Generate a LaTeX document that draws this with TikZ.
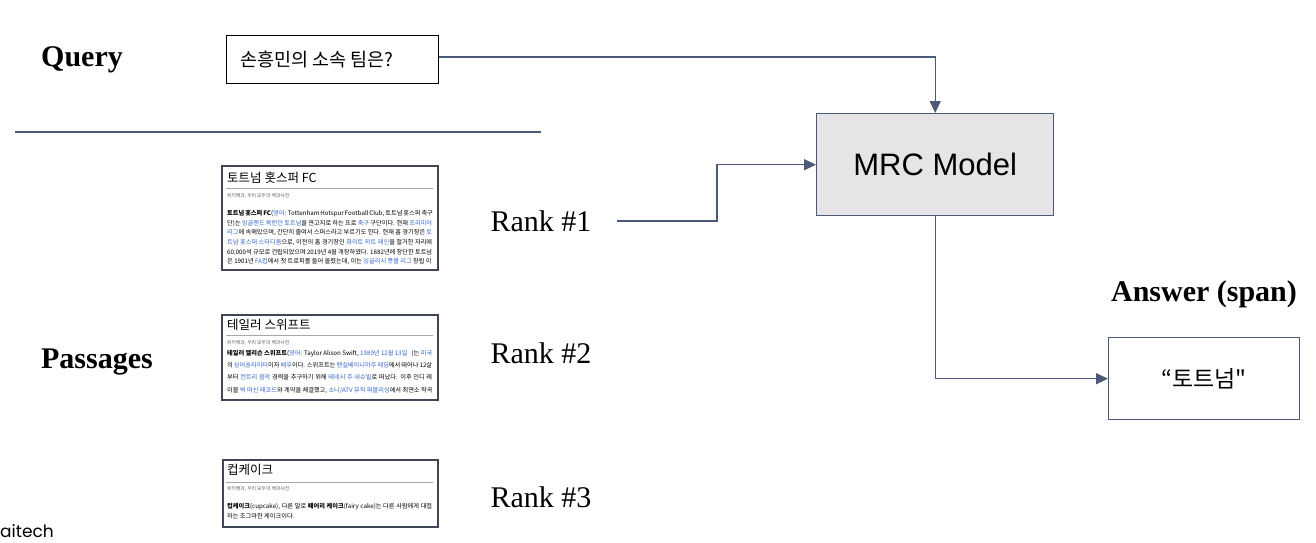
\documentclass[tikz,border=0pt]{standalone}
\usepackage{fontspec}
\setmainfont{Liberation Serif}
\setsansfont{Liberation Sans}
\newfontfamily\kr{Noto Sans CJK KR}
\newfontfamily\pop{Poppins}
\usetikzlibrary{arrows.meta}
\definecolor{slate}{HTML}{4A5A78}
\definecolor{mrcfill}{HTML}{E6E4E7}
\definecolor{pborder}{HTML}{3F4656}
\definecolor{linkblue}{HTML}{3366CC}
\definecolor{rulegray}{HTML}{A2A9B1}
\definecolor{subgray}{HTML}{54595D}
\newcommand\lk[1]{\textcolor{linkblue}{#1}}
\newcommand\jl[1]{\makebox[205pt][s]{#1}\\}
\newcommand\lastl[1]{\makebox[205pt][l]{#1}}
\tikzset{
  label/.style={font=\bfseries\fontsize{30}{32}\selectfont, inner sep=0pt},
  rank/.style={font=\fontsize{30}{32}\selectfont, inner sep=0pt},
  conn/.style={draw=slate, line width=1.4pt, -{Triangle[length=12pt,width=11pt]}},
  passage/.style={draw=pborder, line width=1.6pt, fill=white, anchor=north west, inner sep=0pt},
  ptitle/.style={anchor=west, inner sep=0pt, font=\kr\fontsize{12.5}{14}\selectfont},
  psub/.style={anchor=west, inner sep=0pt, text=subgray, font=\kr\fontsize{4.8}{5}\selectfont},
  pbody/.style={anchor=north west, inner sep=0pt},
}
\begin{document}
\begin{tikzpicture}[x=1pt,y=-1pt]
\useasboundingbox (0,0) rectangle (1316,542);
\fill[white] (0,0) rectangle (1316,542);

% labels
\node[label] (lq) at (82,60) {Query};
\node[label] (lp) at (97,362) {Passages};
\node[label] (la) at (1204,294) {Answer (span)};

% divider
\draw[slate, line width=1.2pt] (15,132) -- (541,132);

% query box
\node[draw=black, line width=1.4pt, minimum width=212pt, minimum height=48pt, anchor=north west, inner sep=0pt] (q) at (226,35) {};
\node[anchor=west, inner sep=0pt, font=\kr\fontsize{18.5}{20}\selectfont] (qt) at (240,59) {손흥민의 소속 팀은?};

% MRC model
\node[draw=slate, fill=mrcfill, line width=1.4pt, minimum width=237pt, minimum height=102pt, anchor=north west, inner sep=0pt] (mrc) at (816,113) {};
\node[inner sep=0pt, font=\sffamily\fontsize{31}{34}\selectfont] (mrct) at (mrc.center) {MRC Model};

% answer box
\node[draw=slate, line width=1.4pt, minimum width=191pt, minimum height=82pt, anchor=north west, inner sep=0pt] (ans) at (1108,337) {};
\node[inner sep=0pt, font=\kr\fontsize{23}{26}\selectfont] (anst) at (ans.center) {“토트넘"};

% ranks
\node[rank] (r1) at (541,221) {Rank \#1};
\node[rank] (r2) at (541,353) {Rank \#2};
\node[rank] (r3) at (541,497) {Rank \#3};

% connectors
\coordinate (bend) at (717,0);
\coordinate (qy) at (0,57);
\draw[conn] (q.east |- qy) -| (mrc.north);
\draw[conn, shorten <=25pt] (r1.east) -- (r1.east -| bend) |- (mrc.west);
\draw[conn] (mrc.south) |- (ans.west);

% passage 1
\node[passage, minimum width=216pt, minimum height=104pt] (p1) at (221,165) {};
\node[ptitle] (p1t) at (227,178) {토트넘 홋스퍼 FC};
\draw[rulegray, line width=0.6pt] (226,188) -- (433,188);
\node[psub] (p1s) at (227,196) {위키백과, 우리 모두의 백과사전.};
\node[pbody] (p1b) at (227,210) {\parbox{205pt}{\kr\fontsize{6.2}{9.7}\selectfont
\jl{\textbf{토트넘 홋스퍼 FC}(\lk{영어}: Tottenham Hotspur Football Club, 토트넘 홋스퍼 축구}
\jl{단)는 \lk{잉글랜드 북런던 토트넘}을 연고지로 하는 프로 \lk{축구} 구단이다. 현재 \lk{프리미어}}
\jl{\lk{리그}에 속해있으며, 간단히 줄여서 스퍼스라고 부르기도 한다. 현재 홈 경기장은 \lk{토}}
\jl{\lk{트넘 홋스퍼 스타디움}으로, 이전의 홈 경기장인 \lk{화이트 하트 레인}을 철거한 자리에}
\jl{60,000석 규모로 건립되었으며 2019년 4월 개장하였다. 1882년에 창단한 토트넘}
\lastl{은 1901년 \lk{FA컵}에서 첫 트로피를 들어 올렸는데, 이는 \lk{잉글리시 풋볼 리그} 창립 이}}};

% passage 2
\node[passage, minimum width=216pt, minimum height=85pt] (p2) at (221,314) {};
\node[ptitle] (p2t) at (227,325) {테일러 스위프트};
\draw[rulegray, line width=0.6pt] (226,335) -- (433,335);
\node[psub] (p2s) at (227,343) {위키백과, 우리 모두의 백과사전.};
\node[pbody] (p2b) at (227,350) {\parbox{205pt}{\kr\fontsize{6.2}{12.2}\selectfont
\jl{\textbf{테일러 앨리슨 스위프트}(\lk{영어}: Taylor Alison Swift, \lk{1989년 12월 13일} ~ )는 \lk{미국}}
\jl{의 \lk{싱어송라이터}이자 \lk{배우}이다. 스위프트는 \lk{펜실베이니아주 레딩}에서 태어나 12살}
\jl{부터 \lk{컨트리 음악} 경력을 추구하기 위해 \lk{테네시 주 내슈빌}로 떠났다. 이후 인디 레}
\lastl{이블 \lk{빅 머신 레코드}와 계약을 체결했고, \lk{소니/ATV 뮤직 퍼블리싱}에서 최연소 작곡}}};

% passage 3
\node[passage, minimum width=215pt, minimum height=67pt] (p3) at (222,459) {};
\node[ptitle] (p3t) at (227,470) {컵케이크};
\draw[rulegray, line width=0.6pt] (226,482) -- (433,482);
\node[psub] (p3s) at (227,489) {위키백과, 우리 모두의 백과사전.};
\node[pbody] (p3b) at (227,503) {\parbox{205pt}{\kr\fontsize{6.2}{10.2}\selectfont
\jl{\textbf{컵케이크}(cupcake), 다른 말로 \textbf{페어리 케이크}(fairy cake)는 다른 사람에게 대접}
\lastl{하는 조그마한 케이크이다.}}};

% watermark
\node[anchor=base west, inner sep=0pt, font=\pop\fontsize{17}{19}\selectfont] (ai) at (0,537) {aitech};
\end{tikzpicture}
\end{document}
